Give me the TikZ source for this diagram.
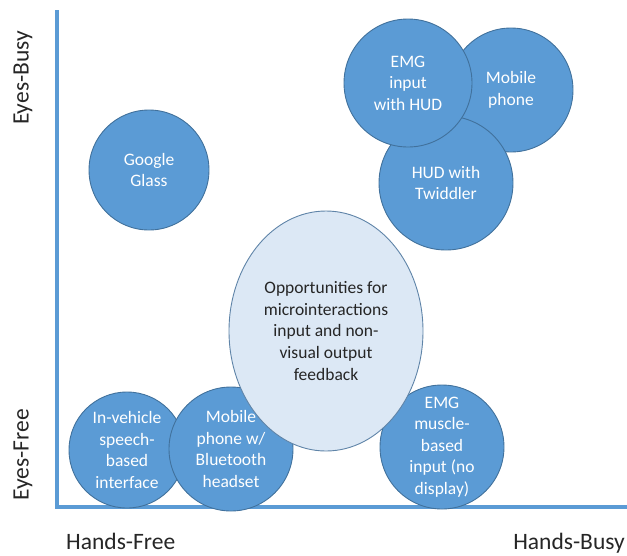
\documentclass[tikz,border=0pt]{standalone}
\usepackage{fontspec}
\setmainfont{Carlito}
\definecolor{bubblefill}{HTML}{5B9BD5}
\definecolor{bubbleedge}{HTML}{41719C}
\definecolor{hubfill}{HTML}{DCE8F5}
\definecolor{hubedge}{HTML}{5F84A8}
\definecolor{axisblue}{HTML}{5B9BD5}
\definecolor{labeltext}{HTML}{262626}
\begin{document}
\begin{tikzpicture}[x=1pt,y=-1pt,
  bubble/.style={circle, draw=bubbleedge, line width=0.9pt, fill=bubblefill,
    text=white, align=center, inner sep=0pt,
    font=\fontsize{17.5}{21.5}\selectfont},
  hub/.style={ellipse, draw=hubedge, line width=0.9pt, fill=hubfill,
    text=labeltext, align=center, inner sep=0pt,
    font=\fontsize{17.5}{21.8}\selectfont},
  axisline/.style={draw=axisblue, line width=3.5pt},
  axislabel/.style={text=labeltext, inner sep=0pt, font=\fontsize{23.5}{28}\selectfont}]
\usetikzlibrary{shapes.geometric}
\useasboundingbox (0,0) rectangle (627,555);

% axes
\coordinate (axtop) at (57,10);
\coordinate (axcorner) at (57,507);
\coordinate (axright) at (627,507);
\draw[axisline] (axtop) -- (axcorner) -- (axright);

% axis labels
\node[axislabel, rotate=90] (eyesbusy) at (23,78) {Eyes-Busy};
\node[axislabel, rotate=90] (eyesfree) at (23,455) {Eyes-Free};
\node[axislabel, anchor=base west] (handsfree) at (66,549) {Hands-Free};
\node[axislabel, anchor=base east] (handsbusy) at (625,549) {Hands-Busy};

% eyes-busy cluster
\node[bubble, minimum size=124pt] (mobile) at (511,90) {Mobile\\phone};
\node[bubble, minimum size=134pt] (twiddler) at (446,183) {HUD with\\Twiddler};
\node[bubble, minimum size=128pt] (emghud) at (408,83) {EMG\\input\\with HUD};
\node[bubble, minimum size=120pt] (glass) at (149,170) {Google\\Glass};

% eyes-free cluster
\node[bubble, minimum size=116pt] (vehicle) at (127,450) {In-vehicle\\speech-\\based\\interface};
\node[bubble, minimum size=124pt] (bluetooth) at (231,449) {Mobile\\phone w/\\Bluetooth\\headset};
\node[bubble, minimum size=124pt] (emgmuscle) at (442,447) {EMG\\muscle-\\based\\input (no\\display)};

% central opportunity area
\node[hub, minimum width=194pt, minimum height=240pt] (hub) at (326,331)
  {Opportunities for\\microinteractions\\input and non-\\visual output\\feedback};
\end{tikzpicture}
\end{document}
